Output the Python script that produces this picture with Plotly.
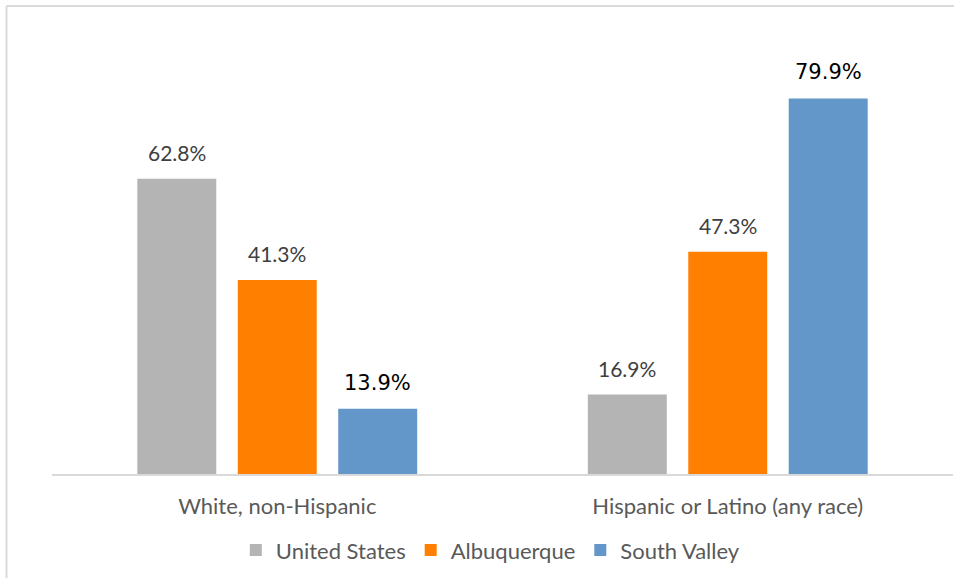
import plotly.graph_objects as go

categories = ["White, non-Hispanic", "Hispanic or Latino (any race)"]
series_names = ["United States", "Albuquerque", "South Valley"]
united_states = [62.8, 16.9]
albuquerque = [41.3, 47.3]
south_valley = [13.9, 79.9]

colors = ["#B4B4B4", "#FF7F00", "#6396C9"]
label_fonts = [
    dict(family="Lato", size=21, color="#404040"),
    dict(family="Lato", size=21, color="#404040"),
    dict(family="DejaVu Sans", size=21, color="#000000"),
]

W, H = 954, 578
ML, MR, MT, MB = 52, 1, 50.5, 104
plot_w = W - ML - MR
plot_h = H - MT - MB
cat_w = plot_w / len(categories)
bargap = 0.331
groupgap = 0.214
slot = cat_w * (1 - bargap) / len(series_names)

fig = go.Figure()
values = [united_states, albuquerque, south_valley]
for i, (name, vals) in enumerate(zip(series_names, values)):
    fig.add_trace(go.Bar(
        x=categories, y=vals, name=name,
        marker=dict(color=colors[i], line=dict(width=0)),
    ))
    for cat, v in zip(categories, vals):
        fig.add_annotation(
            x=cat, y=v, text=f"{v:.1f}%", showarrow=False,
            xshift=(i - 1) * slot, yanchor="bottom", yshift=12,
            font=label_fonts[i],
        )

# light frame along the top and left edges of the chart
frame_x = (6.5 - ML) / plot_w
frame_y = (H - 5.5 - MB) / plot_h
fig.add_shape(type="line", xref="paper", yref="paper",
              x0=frame_x, x1=(W + 5 - ML) / plot_w, y0=frame_y, y1=frame_y,
              line=dict(color="#D9D9D9", width=2))
fig.add_shape(type="line", xref="paper", yref="paper",
              x0=frame_x, x1=frame_x, y0=-(MB + 10) / plot_h, y1=frame_y,
              line=dict(color="#D9D9D9", width=2))

fig.update_layout(
    width=W, height=H,
    margin=dict(l=ML, r=MR, t=MT, b=MB),
    paper_bgcolor="white", plot_bgcolor="white",
    barmode="group", bargap=bargap, bargroupgap=groupgap,
    font=dict(family="Lato", size=22, color="#595959"),
    showlegend=True,
    legend=dict(orientation="h", x=0.487, xanchor="center", y=-0.18, yanchor="middle",
                font=dict(family="Lato", size=22, color="#595959"),
                itemwidth=30, tracegroupgap=0),
    xaxis=dict(showline=True, linecolor="#D9D9D9", linewidth=2, ticks="",
               tickfont=dict(family="Lato", size=22, color="#595959"),
               ticklabelstandoff=12,
               showgrid=False, zeroline=False),
    yaxis=dict(range=[0, 90], visible=False, showgrid=False, zeroline=False),
)

fig.write_html("out.html")
